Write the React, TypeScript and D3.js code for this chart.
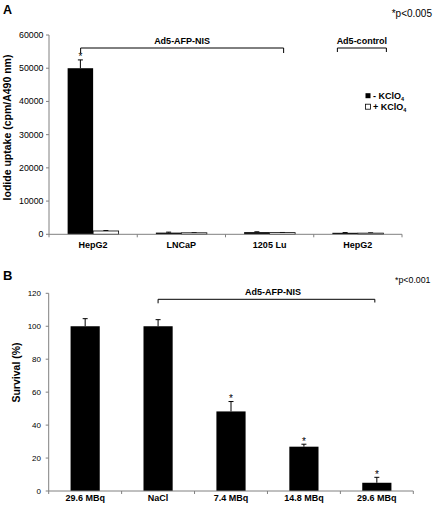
import React from "react";
import * as d3 from "d3";

// Panel A data
const catsA = ["HepG2", "LNCaP", "1205 Lu", "HepG2"];
const minusK = [50000, 500, 650, 450];
const minusKErr = [2500, 150, 100, 60];
const plusK = [1000, 450, 500, 350];
const plusKErr = [120, 40, 50, 80];
const ticksA = [0, 10000, 20000, 30000, 40000, 50000, 60000];

// Panel B data
const catsB = ["29.6 MBq", "NaCl", "7.4 MBq", "14.8 MBq", "29.6 MBq"];
const survival = [100, 100, 48.3, 26.9, 5];
const survErr = [4.6, 4, 6, 1.5, 3.3];
const starsB = [false, false, true, true, true];
const ticksB = [0, 20, 40, 60, 80, 100, 120];

const FONT = "'Liberation Sans', Arial, Helvetica, sans-serif";
const AX = "#808080";

export default function App() {
  // ---- Panel A scales
  const xA = d3.scaleBand<number>().domain(catsA.map((_, i) => i)).range([49, 402]).padding(0);
  const yA = d3.scaleLinear().domain([0, 60000]).range([234.3, 35]);
  const sub = d3.scaleBand<string>().domain(["minus", "plus"]).range([-25.5, 25.5]).padding(0);
  const cA = (i: number) => (xA(i) as number) + xA.bandwidth() / 2;

  // ---- Panel B scales
  const xB = d3.scaleBand<number>().domain(catsB.map((_, i) => i)).range([48.7, 413.3]).paddingInner(0);
  const yB = d3.scaleLinear().domain([0, 120]).range([491, 293.3]);
  const bwB = xB.bandwidth() * 0.4;
  const cB = (i: number) => (xB(i) as number) + xB.bandwidth() / 2;

  const errBar = (x: number, yTop: number, yBase: number, key: string, color = "#000") => (
    <g key={key} stroke={color} strokeWidth={1}>
      <line x1={x} x2={x} y1={yBase} y2={yTop} />
      <line x1={x - 2.5} x2={x + 2.5} y1={yTop} y2={yTop} />
    </g>
  );

  const boundsA = d3.range(catsA.length + 1).map((i) => 49 + i * xA.step());
  const boundsB = d3.range(catsB.length + 1).map((i) => 48.7 + i * xB.step());

  return (
    <svg
      width={434}
      height={505}
      style={{ position: "absolute", left: 0, top: 0, background: "#fff" }}
      fontFamily={FONT}
    >
      <rect x={0} y={0} width={434} height={505} fill="#fff" />
      {/* ================= Panel A ================= */}
      <text x={3} y={13.5} fontSize={12.5} fontWeight="bold">A</text>
      <text x={432} y={16.5} fontSize={10} textAnchor="end">*p&lt;0.005</text>

      {/* y axis */}
      <line x1={49} x2={49} y1={yA(60000)} y2={yA(0)} stroke={AX} />
      {ticksA.map((t) => (
        <g key={"ta" + t}>
          <line x1={46} x2={49} y1={yA(t)} y2={yA(t)} stroke={AX} />
          <text x={43.5} y={yA(t) + 3} fontSize={8.8} textAnchor="end">{t}</text>
        </g>
      ))}
      <text
        transform={`translate(11,127.5) rotate(-90)`}
        fontSize={10.5}
        fontWeight="bold"
        textAnchor="middle"
      >
        Iodide uptake (cpm/A490 nm)
      </text>

      {/* bars */}
      {catsA.map((_, i) => {
        const c = cA(i);
        const xm = c + (sub("minus") as number);
        const xp = c + (sub("plus") as number);
        return (
          <g key={"ba" + i}>
            {errBar(xm + sub.bandwidth() / 2, yA(minusK[i] + minusKErr[i]), yA(minusK[i]), "em" + i)}
            <rect x={xm} y={yA(minusK[i])} width={sub.bandwidth()} height={yA(0) - yA(minusK[i])} fill="#000" />
            {errBar(xp + sub.bandwidth() / 2, yA(plusK[i] + plusKErr[i]), yA(plusK[i]), "ep" + i)}
            <rect
              x={xp}
              y={yA(plusK[i])}
              width={sub.bandwidth()}
              height={yA(0) - yA(plusK[i])}
              fill="#fff"
              stroke="#000"
              strokeWidth={0.8}
            />
          </g>
        );
      })}
      <text
        x={cA(0) + (sub("minus") as number) + sub.bandwidth() / 2}
        y={yA(minusK[0] + minusKErr[0]) + 0.5}
        fontSize={10}
        textAnchor="middle"
      >
        *
      </text>

      {/* x axis */}
      <line x1={49} x2={402} y1={yA(0)} y2={yA(0)} stroke={AX} />
      {boundsA.map((b, i) => (
        <line key={"xa" + i} x1={b} x2={b} y1={yA(0)} y2={yA(0) + 3} stroke={AX} />
      ))}
      {catsA.map((c, i) => (
        <text key={"la" + i} x={cA(i)} y={247.5} fontSize={9} fontWeight="bold" textAnchor="middle">
          {c}
        </text>
      ))}

      {/* brackets A */}
      <path
        d={`M${cA(0) - 12.5},53 V48 H${cA(2) + 14} V53`}
        fill="none"
        stroke="#000"
        strokeWidth={1}
      />
      <text x={(cA(0) - 12.5 + cA(2) + 14) / 2} y={43.5} fontSize={9} fontWeight="bold" textAnchor="middle">
        Ad5-AFP-NIS
      </text>
      <path
        d={`M${cA(3) - 20.5},52 V48 H${cA(3) + 28.5} V52`}
        fill="none"
        stroke="#000"
        strokeWidth={1}
      />
      <text x={cA(3) + 4} y={43.5} fontSize={9} fontWeight="bold" textAnchor="middle">
        Ad5-control
      </text>

      {/* legend */}
      <rect x={365.5} y={93.2} width={5} height={5} fill="#000" />
      <text x={373} y={99} fontSize={9} fontWeight="bold">
        - KClO<tspan fontSize={5.5} dy={2}>4</tspan>
      </text>
      <rect x={365.5} y={104.2} width={5} height={5} fill="#fff" stroke="#000" strokeWidth={0.8} />
      <text x={373} y={110} fontSize={9} fontWeight="bold">
        + KClO<tspan fontSize={5.5} dy={2}>4</tspan>
      </text>

      {/* ================= Panel B ================= */}
      <text x={3} y={280} fontSize={13} fontWeight="bold">B</text>
      <text x={430.5} y={283} fontSize={8.8} textAnchor="end">*p&lt;0.001</text>

      <line x1={48.7} x2={48.7} y1={yB(120)} y2={yB(0)} stroke={AX} />
      {ticksB.map((t) => (
        <g key={"tb" + t}>
          <line x1={45.7} x2={48.7} y1={yB(t)} y2={yB(t)} stroke={AX} />
          <text x={41} y={yB(t) + 3} fontSize={8} textAnchor="end">{t}</text>
        </g>
      ))}
      <text
        transform={`translate(19.5,372.5) rotate(-90)`}
        fontSize={10.5}
        fontWeight="bold"
        textAnchor="middle"
      >
        Survival (%)
      </text>

      {catsB.map((_, i) => {
        const c = cB(i);
        const top = yB(survival[i] + survErr[i]);
        return (
          <g key={"bb" + i}>
            {errBar(c, top, yB(survival[i]), "eb" + i)}
            <rect x={c - bwB / 2} y={yB(survival[i])} width={bwB} height={yB(0) - yB(survival[i])} fill="#000" />
            {starsB[i] && (
              <text x={c} y={top + 0.3} fontSize={10} textAnchor="middle">*</text>
            )}
          </g>
        );
      })}

      <line x1={48.7} x2={413.3} y1={yB(0)} y2={yB(0)} stroke={AX} />
      {boundsB.map((b, i) => (
        <line key={"xb" + i} x1={b} x2={b} y1={yB(0)} y2={yB(0) + 3} stroke={AX} />
      ))}
      {catsB.map((c, i) => (
        <text key={"lb" + i} x={cB(i)} y={501} fontSize={9} fontWeight="bold" textAnchor="middle">
          {c}
        </text>
      ))}

      <path
        d={`M${cB(1)},303.3 V299.3 H${cB(4) - 2} V302.5`}
        fill="none"
        stroke="#000"
        strokeWidth={1}
      />
      <text x={273} y={294.5} fontSize={9} fontWeight="bold" textAnchor="middle">
        Ad5-AFP-NIS
      </text>
    </svg>
  );
}
